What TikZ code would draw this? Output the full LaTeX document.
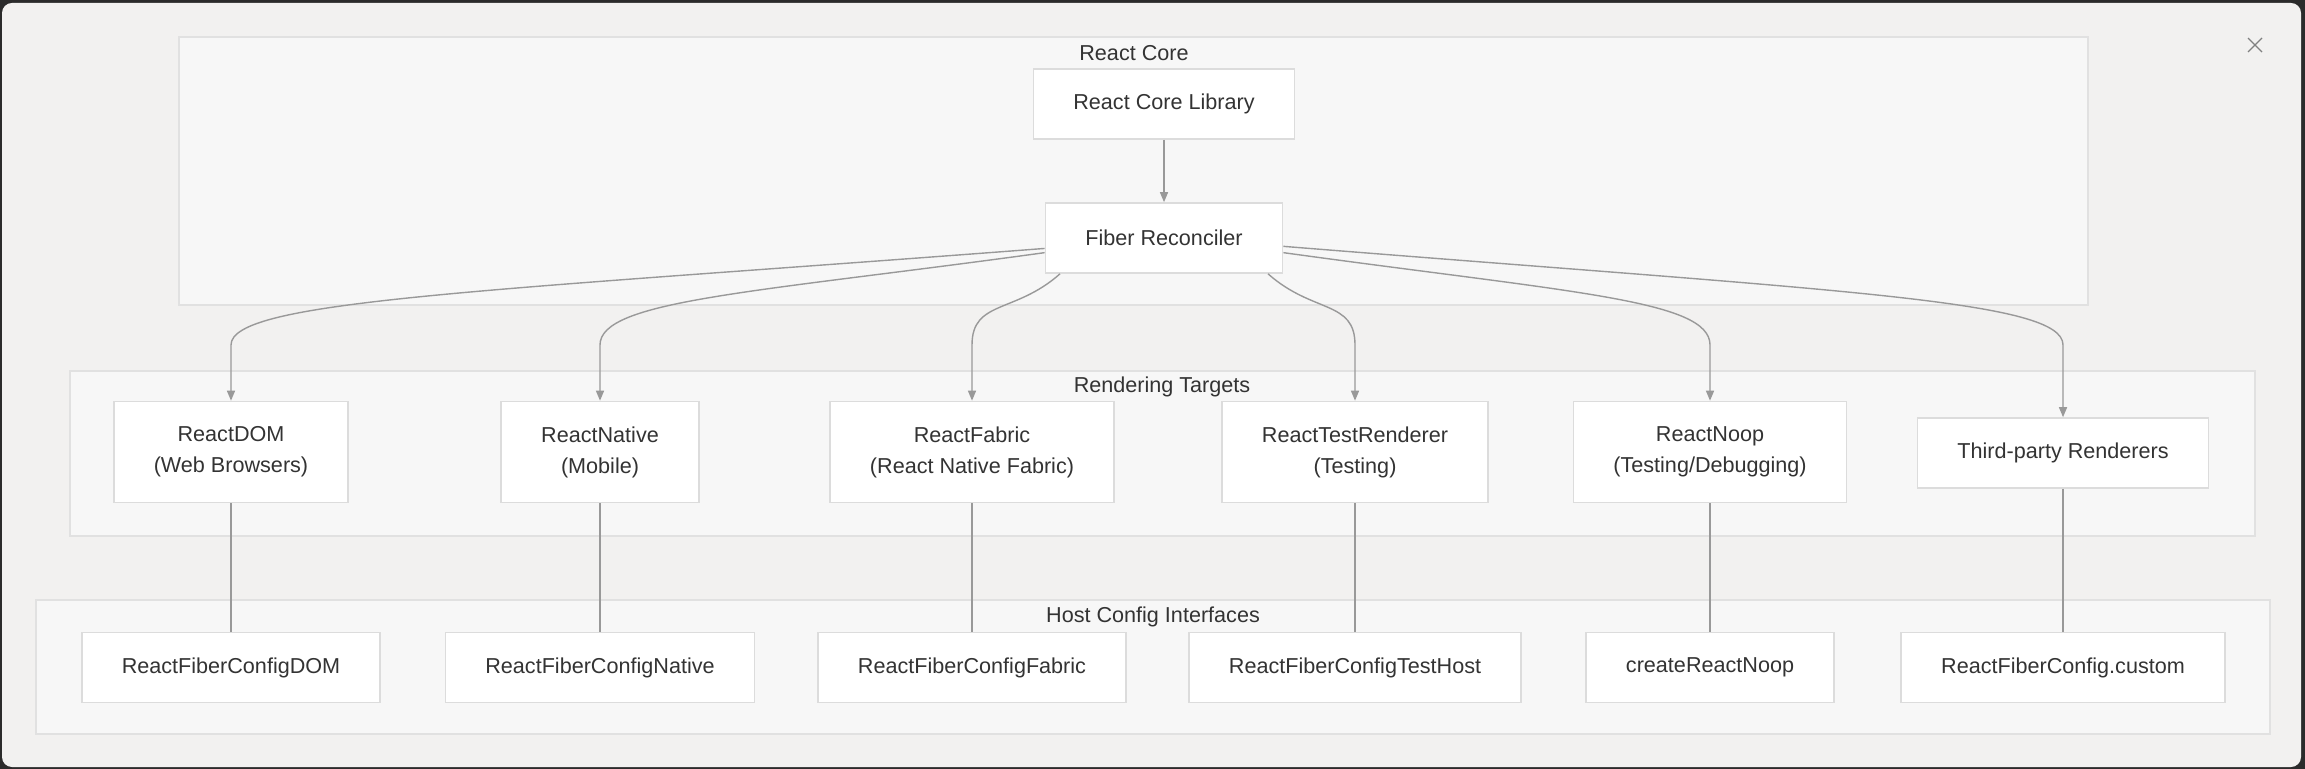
\documentclass[tikz,border=0pt]{standalone}
\usepackage{fontspec}
\setmainfont{Liberation Sans}
\usetikzlibrary{arrows.meta,calc,positioning}

\definecolor{framedark}{HTML}{2B2B2B}
\definecolor{panelbg}{HTML}{F2F1F0}
\definecolor{clusterbg}{HTML}{F7F7F7}
\definecolor{clusterline}{HTML}{E1E1E1}
\definecolor{boxline}{HTML}{DCDCDC}
\definecolor{edgegray}{HTML}{999999}
\definecolor{inkgray}{HTML}{333333}

\begin{document}
\begin{tikzpicture}[x=0.5pt,y=-0.5pt,>={Triangle[length=5pt,width=4pt]},
    font=\fontsize{10.8}{15.5}\selectfont,text=inkgray,
    box/.style={draw=boxline,line width=0.8pt,fill=white,inner xsep=20pt,inner ysep=0pt,minimum height=35pt,align=center},
    tallbox/.style={box,minimum height=50.5pt},
    cluster/.style={draw=clusterline,line width=0.8pt,fill=clusterbg},
    flow/.style={->,draw=edgegray,line width=0.7pt},
    link/.style={draw=edgegray,line width=0.7pt}]

    \useasboundingbox (0,0) rectangle (2305,769);
    \fill[framedark] (0,0) rectangle (2305,769);
    \fill[panelbg,rounded corners=5pt] (2,3) rectangle (2301,767);
    \draw[gray,line width=0.6pt] (2248,38) -- (2262,52) (2262,38) -- (2248,52);

    % groups
    \draw[cluster] (179,37) rectangle (2088,305);
    \draw[cluster] (70,371) rectangle (2255,536);
    \draw[cluster] (36,600) rectangle (2270,734);
    \node (coretitle) at (1134,53) {React Core};
    \node (rendertitle) at (1162,387) {Rendering Targets};
    \node (hosttitle) at (1153,617) {Host Config Interfaces};

    % core
    \node[box] (lib) at (1164,104) {React Core Library};
    \node[box] (fiber) at (1164,238) {Fiber Reconciler};

    % renderers
    \node[tallbox] (dom) at (231,452) {ReactDOM\\(Web Browsers)};
    \node[tallbox] (native) at (600,452) {ReactNative\\(Mobile)};
    \node[tallbox] (fabric) at (972,452) {ReactFabric\\(React Native Fabric)};
    \node[tallbox] (test) at (1355,452) {ReactTestRenderer\\(Testing)};
    \node[tallbox] (noop) at (1710,452) {ReactNoop\\(Testing/Debugging)};
    \node[box] (third) at (2063,453) {Third-party Renderers};

    % host configs
    \foreach \r/\txt in {dom/ReactFiberConfigDOM,native/ReactFiberConfigNative,
        fabric/ReactFiberConfigFabric,test/ReactFiberConfigTestHost,
        noop/createReactNoop,third/ReactFiberConfig.custom}{
        \node[box] (\r cfg) at (\r.south |- 0,667.5) {\txt};
        \draw[link] (\r.south) -- (\r cfg.north);
    }

    \draw[flow] (lib) -- (fiber);

    \coordinate (bendlevel) at (0,345);
    \foreach \tgt/\ang/\dx/\dy in {dom/185/-560/43,native/187/-290/40,fabric/199/-45/40,
        test/341/45/40,noop/353/290/40,third/356/560/45}{
        \draw[flow] (fiber.\ang) .. controls +(\dx,\dy) and +(0,-45) .. (\tgt.north |- bendlevel) -- (\tgt.north);
    }

\end{tikzpicture}
\end{document}
